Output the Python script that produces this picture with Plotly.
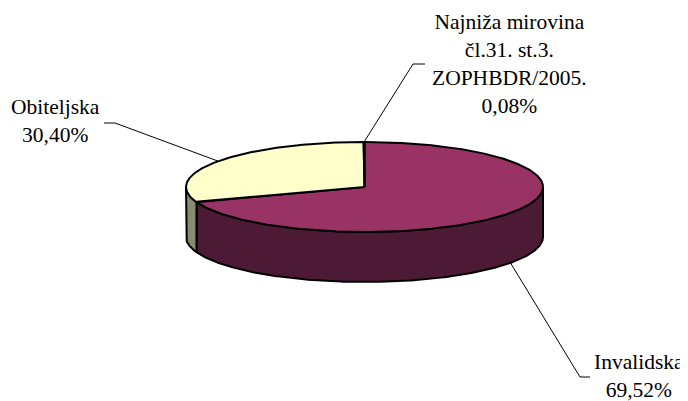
import numpy as np
import plotly.graph_objects as go

# ---- data ----
categories = ["Invalidska", "Obiteljska", "Najniža mirovina<br>čl.31. st.3.<br>ZOPHBDR/2005."]
values = [69.52, 30.40, 0.08]
top_colors = ["#993366", "#FFFFCC", "#CCFFFF"]
side_colors = ["#4D1A36", "#8A8A6C", "#667F7F"]
label_pos = [(639, 376), (55, 121), (509, 64)]
elbows = [((580, 377), (590, 377)), ((115, 123), (104, 123)), ((413, 64), (425, 64))]

# ---- geometry of the tilted pie (pixel space) ----
W, H = 688, 401
OFF = 8  # page body margin compensation
cx, cy, rx, ry, depth = 364.5, 187.0, 178.5, 45.0, 50.0

def pt(theta_deg, dy=0.0):
    t = np.radians(theta_deg)
    return cx + rx * np.sin(t), cy - ry * np.cos(t) + dy

total = sum(values)
bounds = []
acc = 0.0
for v in values:
    a = acc / total * 360.0
    acc += v
    b = acc / total * 360.0
    bounds.append((a, b))

fig = go.Figure()

# side walls (front half only: 90..270 degrees clockwise from top)
for (a, b), col in zip(bounds, side_colors):
    s, e = max(a, 90.0), min(b, 270.0)
    if e <= s:
        continue
    th = np.linspace(s, e, max(2, int((e - s) * 2)))
    xt, yt = pt(th)
    xb, yb = pt(th[::-1], depth)
    xs = np.concatenate([xt, xb, xt[:1]])
    ys = np.concatenate([yt, yb, yt[:1]])
    fig.add_trace(go.Scatter(x=xs, y=ys, mode="lines", fill="toself",
                             fillcolor=col, line=dict(color="black", width=2),
                             hoverinfo="skip", showlegend=False))

# top faces
for (a, b), col in zip(bounds, top_colors):
    th = np.linspace(a, b, max(2, int((b - a) * 2)))
    xa, ya = pt(th)
    xs = np.concatenate([[cx], xa, [cx]])
    ys = np.concatenate([[cy], ya, [cy]])
    fig.add_trace(go.Scatter(x=xs, y=ys, mode="lines", fill="toself",
                             fillcolor=col, line=dict(color="black", width=2),
                             hoverinfo="skip", showlegend=False))

# leader lines and labels
for (a, b), cat, v, (lx, ly), (e1, e2) in zip(bounds, categories, values, label_pos, elbows):
    mid = (a + b) / 2.0
    dy = depth if 90.0 < mid < 270.0 else 0.0
    x0, y0 = pt(mid, dy)
    fig.add_trace(go.Scatter(x=[x0, e1[0], e2[0]], y=[y0, e1[1], e2[1]], mode="lines",
                             line=dict(color="black", width=1),
                             hoverinfo="skip", showlegend=False))
    txt = cat + "<br>" + f"{v:.2f}".replace(".", ",") + "%"
    fig.add_annotation(x=lx, y=ly, xref="x", yref="y", text=txt, showarrow=False,
                       xanchor="center", yanchor="middle", align="center",
                       font=dict(family="Liberation Serif, Tinos, Times New Roman, DejaVu Serif, serif",
                                 size=21.5, color="black"))

fig.update_layout(
    width=W, height=H,
    margin=dict(l=0, r=0, t=0, b=0),
    paper_bgcolor="white", plot_bgcolor="white",
    font=dict(family="Liberation Serif, Tinos, Times New Roman, DejaVu Serif, serif"),
    xaxis=dict(range=[OFF, W + OFF], visible=False, fixedrange=True),
    yaxis=dict(range=[H + OFF, OFF], visible=False, fixedrange=True),
    showlegend=False,
)

fig.write_html("out.html")
